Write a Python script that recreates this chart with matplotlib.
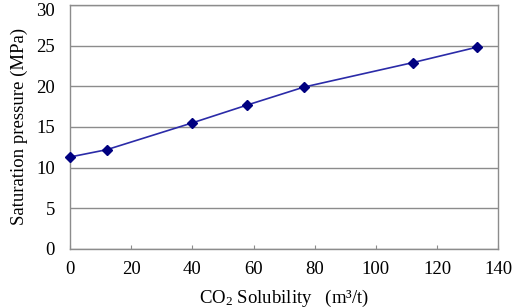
import numpy as np
import matplotlib
matplotlib.use("Agg")
import matplotlib.pyplot as plt
import matplotlib.transforms as mtransforms

plt.rcParams['font.family'] = ['Liberation Serif', 'DejaVu Serif']
plt.rcParams['mathtext.fontset'] = 'custom'
plt.rcParams['mathtext.rm'] = 'Liberation Serif'
plt.rcParams['mathtext.it'] = 'Liberation Serif:italic'

# CO2 solubility (m3/t) vs saturation pressure (MPa)
solubility = [0, 12, 40, 58, 76.5, 112, 133]
pressure = [11.3, 12.2, 15.5, 17.7, 19.9, 22.9, 24.8]

x_ticks = [0, 20, 40, 60, 80, 100, 120, 140]
y_ticks = [0, 5, 10, 15, 20, 25, 30]

fig = plt.figure(figsize=(5.12, 3.08), dpi=100)
ax = fig.add_axes([0.137, 0.192, 0.836, 0.792])

ax.plot(solubility, pressure, color='#2b2ba8', lw=1.2, marker='D',
        markersize=5.5, markerfacecolor='#000080', markeredgecolor='#000080',
        clip_on=False, zorder=3)

ax.set_xlim(0, 140)
ax.set_ylim(0, 30)
ax.set_xticks(x_ticks)
ax.set_yticks(y_ticks)
ax.yaxis.grid(True, color='#8c8c8c', lw=1.0)
ax.set_axisbelow(True)

for s in ax.spines.values():
    s.set_color('#8c8c8c')
    s.set_linewidth(1.0)

ax.tick_params(axis='y', length=0, pad=11, labelsize=13.5)
ax.tick_params(axis='x', direction='in', length=3, color='#8c8c8c',
               pad=9, labelsize=13.5)

# top label sits a little lower so it stays inside the figure
top = ax.get_yticklabels()[-1]
top.set_transform(top.get_transform() +
                  mtransforms.ScaledTranslation(0, -3 / 72, fig.dpi_scale_trans))

ax.set_ylabel('Saturation pressure (MPa)', fontsize=13.5, labelpad=6)
ax.set_xlabel(r'CO$_2$ Solubility   (m³/t)', fontsize=13.5, labelpad=7)

fig.savefig('out.png', dpi=100)
